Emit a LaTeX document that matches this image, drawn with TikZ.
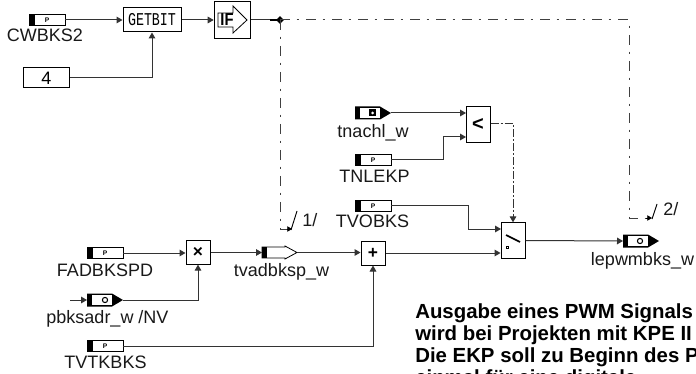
\documentclass[tikz,border=0pt]{standalone}
\usepackage{fontspec}
\setmainfont{Liberation Sans}
\newfontfamily\gbfont{Liberation Mono}
\usetikzlibrary{arrows.meta}
\tikzset{
  wire/.style={draw=black!80,line width=0.75pt,-{Triangle[length=4.5pt,width=5pt]}},
  ctrl/.style={draw=black!75,line width=0.75pt,dash pattern=on 7.5pt off 5pt on 2pt off 5pt},
  fb/.style={draw=black,line width=0.75pt,fill=white,inner sep=0pt,minimum width=#1},
  lbl/.style={font=\fontsize{13.5pt}{15pt}\selectfont,inner sep=0pt,anchor=base,text=black!90},
  portbox/.style={draw=black,line width=0.6pt,fill=white,minimum width=27pt,minimum height=8.5pt,inner sep=0pt},
  tinyp/.style={font=\bfseries\fontsize{5pt}{5pt}\selectfont,inner sep=0pt},
  note/.style={font=\bfseries\fontsize{15.3pt}{16.5pt}\selectfont,inner sep=0pt,anchor=base west},
}
\newcommand{\param}[4]{%
  \node[portbox] (#1) at (#2+18,#3) {};
  \fill[black] (#2,#3-6) rectangle (#2+6,#3+6);
  \node[tinyp] (#1p) at (#2+18,#3) {P};
}
\newcommand{\varshape}[3]{%
  \fill[black] (#2,#3-6.5) -- (#2+25,#3-6.5) -- (#2+36,#3) -- (#2+25,#3+6.5) -- (#2,#3+6.5) -- cycle;
  \node[fill=white,minimum width=15pt,minimum height=8pt,inner sep=0pt] (#1) at (#2+15,#3) {};
  \coordinate (#1in) at (#2,#3);
  \coordinate (#1out) at (#2+36,#3);
}
\begin{document}
\begin{tikzpicture}[x=0.75pt,y=-0.75pt]
\useasboundingbox (0,0) rectangle (696,374);
\fill[white] (0,0) rectangle (696,374);
% inputs
\param{cw}{29}{20}{}
\node[lbl] at (45,42) {CWBKS2};
\param{fa}{87}{253}{}
\node[lbl] at (105,276) {FADBKSPD};
\param{tt}{87}{346}{}
\node[lbl] at (105.5,368) {TVTKBKS};
\param{tl}{355}{160}{}
\node[lbl] at (374.5,183) {TNLEKP};
\param{tv}{355}{206}{}
\node[lbl] at (372.5,228) {TVOBKS};
\node[fb=35pt,minimum height=15pt,font=\fontsize{13.5pt}{15pt}\selectfont] (four) at (46.5,78) {4};
% function blocks
\node[fb=43.5pt,minimum height=18pt] (gb) at (152,20) {\gbfont\fontsize{13.5pt}{15pt}\selectfont\scalebox{0.74}[1]{GETBIT}};
\node[fb=27.5pt,minimum height=27.5pt] (iff) at (232.5,20) {};
\draw[black,line width=0.6pt] (218,13) -- (233,13) -- (233,6) -- (247,20) -- (233,33) -- (233,27) -- (218,27) -- cycle;
\node[inner sep=0pt,font=\bfseries\fontsize{13pt}{13pt}\selectfont] (ift) at (227,20) {\scalebox{0.85}[1]{IF}};
\node[fill=black,inner sep=0pt,minimum size=4pt,rotate=45] (jn) at (280,20) {};
\node[fb=18pt,minimum height=17.5pt,font=\bfseries\fontsize{13pt}{13pt}\selectfont] (mul) at (198,252.5) {×};
\node[fb=18pt,minimum height=18pt,font=\bfseries\fontsize{13pt}{13pt}\selectfont] (add) at (373,253) {+};
\node[fb=18pt,minimum height=26.5pt,font=\bfseries\fontsize{15pt}{15pt}\selectfont] (lt) at (478,124.5) {<};
\node[fb=18pt,minimum height=26.5pt] (sw) at (513,240.5) {};
\draw[black,line width=1.2pt] (506,235) -- (520,242);
\fill[black] (506,245.5) rectangle (509,248.5);
\fill[white] (507,246.5) rectangle (508,247.5);
% signal shapes
\varshape{pb}{87}{300}
\draw[black,line width=0.8pt,fill=white] (105,300) circle (2.6);
\node[lbl] at (107.5,323) {pbksadr\_w /NV};
\varshape{tn}{355}{113}
\fill[black] (369,109.5) rectangle (376,116.5);
\fill[white] (372.5,113) circle (1.5);
\node[lbl] at (373,138) {tnachl\_w};
\varshape{lp}{623}{241}
\draw[black,line width=0.8pt,fill=white] (640,241) circle (2.6);
\node[lbl] at (642.5,265) {lepwmbks\_w};
% tvadbksp output shape
\draw[black,line width=0.6pt,fill=white] (262,247) -- (285,247) -- (285,246) -- (297,252.5) -- (285,259) -- (285,258) -- (262,258) -- cycle;
\fill[black] (262,247) rectangle (267,258);
\coordinate (tvin) at (262,252.5);
\coordinate (tvout) at (297,252.5);
\node[lbl] at (281.5,276) {tvadbksp\_w};
% wires
\draw[wire] (cw.east) -- (gb.west);
\draw[wire] (four.east) -| (gb.south);
\draw[wire] (gb.east) -- (iff.west);
\draw[black!80,line width=0.75pt] (iff.east) -- (jn.center);
\draw[black,line width=1.2pt] (270,20) -- (jn.center);
\draw[wire] (fa.east) -- (mul.west |- fa.east);
\coordinate (pbfree) at (70,300);
\draw[wire] (pbfree) -- (pbin);
\draw[wire] (pbout) -| (mul.south);
\draw[wire] (mul.east |- tvin) -- (tvin);
\draw[wire] (tvout) -- (add.west |- tvout);
\draw[wire] (tt.east) -| (add.south);
\coordinate (swa) at (sw.west |- add.east);
\coordinate (swb) at (501,229);
\draw[wire] (add.east) -- (swa);
\draw[wire] (tv.east) -- (468,206) -- (468,229) -- (swb);
\coordinate (lta) at (466,113);
\coordinate (ltb) at (466,137);
\draw[wire] (tnout) -- (lta);
\draw[wire] (tl.east) -- (443,160) -- (443,137) -- (ltb);
\draw[wire,dash pattern=on 6pt off 1.5pt on 1.5pt off 1.5pt] (lt.east |- 0,124) -- (513,124) -- (sw.north);
\draw[wire] (sw.east) -- (lpin);
% control lines
\coordinate (c1) at (292,229);
\coordinate (c2) at (652,218);
\draw[ctrl] (jn.center) -- (280,229) -- (c1);
\draw[ctrl] (jn.center) -- (629,20) -- (629,218) -- (c2);
\draw[black,-{Triangle[length=3.5pt,width=4pt]},line width=0.6pt] (287,229) -- (c1);
\draw[black,-{Triangle[length=3.5pt,width=4pt]},line width=0.6pt] (646,218) -- (c2);
\draw[black,line width=0.7pt] (291,230) -- (297,211);
\draw[black,line width=0.7pt] (652,219) -- (657,204);
\node[lbl,anchor=base west] at (302,227) {1/};
\node[lbl,anchor=base west] at (663,215) {2/};
% note
\begin{scope}
\clip (0,0) rectangle (696,374);
\node[note] at (415,318) {Ausgabe eines PWM Signals};
\node[note] at (415,340) {wird bei Projekten mit KPE II};
\node[note] at (415,362) {Die EKP soll zu Beginn des P};
\node[note] at (415,384) {einmal für eine digitale};
\end{scope}
\end{tikzpicture}
\end{document}
